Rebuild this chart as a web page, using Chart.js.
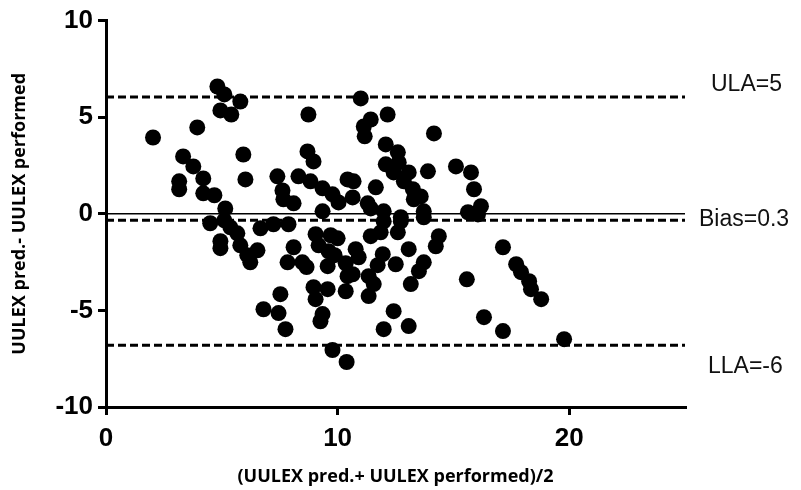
<!DOCTYPE html>
<html>
<head>
<meta charset="utf-8">
<script src="https://cdn.jsdelivr.net/npm/chart.js@4"></script>
<style>
  body { margin: 0; background: #fff; }
  canvas { display: block; }
</style>
</head>
<body>
<canvas id="blandAltman" width="801" height="490"></canvas>
<script>
const meanVals = [
  2.03, 3.16, 3.16, 3.33, 3.77, 3.94, 4.20, 4.20, 4.68, 4.81, 5.11, 4.94, 5.41, 5.80, 5.93, 6.02,
  5.15, 4.50, 5.11, 5.37, 5.67, 4.94, 4.94, 5.80, 6.10, 6.23, 6.54,
  6.67, 7.23, 7.88, 7.40, 7.62, 7.66, 8.10, 8.74, 8.70, 8.96, 8.31, 8.83, 9.35, 9.78, 10.04, 10.43, 9.35,
  8.10, 7.84, 8.48, 8.66, 8.96, 9.05, 9.57, 9.35, 9.26, 7.53, 6.80, 7.45, 7.75, 9.78, 10.39,
  9.05, 9.18, 9.70, 10.00, 9.61, 9.87, 9.57, 10.35, 10.43, 10.35,
  11.00, 11.43, 11.13, 11.17, 12.16, 14.16, 12.08, 12.60, 12.08, 12.42, 12.64, 13.07, 13.90, 12.86, 13.25, 13.59,
  15.11, 15.76, 10.69, 11.65, 10.65, 11.30, 11.43, 13.29, 13.72, 15.89, 11.99, 12.73, 15.63, 16.06, 16.19,
  11.43, 11.86, 12.60, 11.99, 12.73, 13.72, 14.37, 14.24, 13.07, 11.95, 12.51, 11.73, 10.78, 10.91,
  10.65, 11.34, 11.56, 11.34, 13.72, 13.51, 13.16, 15.58, 12.42, 11.99, 13.07,
  17.14, 17.71, 17.92, 18.27, 18.35, 18.79, 16.32, 17.14, 19.78
];
const diffVals = [
  3.95, 1.68, 1.27, 2.97, 2.45, 4.47, 1.83, 1.06, 0.96, 6.59, 6.18, 5.35, 5.14, 5.81, 3.07, 1.78,
  0.28, -0.49, -0.34, -0.70, -1.01, -1.42, -1.78, -1.63, -2.14, -2.51, -1.89,
  -0.75, -0.54, -0.54, 1.94, 1.21, 0.75, 0.54, 5.14, 3.23, 2.71, 1.94, 1.68, 1.32, 1.01, 0.59, 1.78, 0.13,
  -1.73, -2.51, -2.51, -2.76, -3.80, -4.42, -3.90, -5.19, -5.56, -4.16, -4.94, -5.14, -5.97, -7.05, -7.67,
  -1.06, -1.63, -1.11, -1.27, -1.94, -2.14, -2.71, -2.56, -3.23, -4.01,
  5.97, 4.88, 4.52, 4.01, 5.14, 4.16, 3.59, 3.18, 2.56, 2.14, 2.66, 2.14, 2.20, 1.68, 1.27, 0.90,
  2.45, 2.14, 1.68, 1.37, 0.85, 0.54, 0.28, 0.75, 0.13, 1.27, 0.13, -0.18, 0.08, -0.03, 0.39,
  -1.16, -0.96, -0.96, -0.39, -0.39, -0.18, -1.16, -1.68, -1.83, -2.09, -2.61, -2.66, -1.83, -2.25,
  -3.13, -3.23, -3.64, -4.26, -2.51, -2.97, -3.64, -3.39, -5.04, -5.97, -5.81,
  -1.73, -2.61, -3.02, -3.49, -3.90, -4.42, -5.35, -6.07, -6.49
];

// Linhas de referência (limites e viés) como desenhadas no gráfico
const limiteSuperior = 6.04;
const vies = -0.34;
const zeroLinha = 0;
const limiteInferior = -6.8;
const etiquetasLinhas = ['ULA=5', 'Bias=0.3', 'LLA=-6'];

const xTicks = [0, 10, 20];
const yTicks = [-10, -5, 0, 5, 10];
const xRange = [0, 25];
const yRange = [-10, 10];

function linhaHorizontal(valor) {
    return [{ x: xRange[0], y: valor }, { x: xRange[1], y: valor }];
}

const pontos = meanVals.map((x, i) => ({ x: x, y: diffVals[i] }));

// Etiquetas à direita do gráfico
const etiquetasPlugin = {
    id: 'etiquetas',
    afterDraw(chart) {
        const ctx = chart.ctx;
        const y = chart.scales.y;
        const area = chart.chartArea;
        ctx.save();
        ctx.fillStyle = '#111';
        ctx.font = '23px "Liberation Sans", Arial, sans-serif';
        ctx.textAlign = 'left';
        ctx.textBaseline = 'middle';
        ctx.fillText(etiquetasLinhas[0], area.right + 26, y.getPixelForValue(limiteSuperior) - 12);
        ctx.fillText(etiquetasLinhas[1], area.right + 14, y.getPixelForValue(vies) - 1);
        ctx.fillText(etiquetasLinhas[2], area.right + 23, y.getPixelForValue(limiteInferior) + 21);
        ctx.restore();
    }
};

const eixoComum = {
    border: { display: true, color: '#000', width: 3 },
    grid: { display: true, drawOnChartArea: false, drawTicks: true, tickLength: 8, color: '#000', lineWidth: 3 },
    ticks: {
        color: '#000',
        font: { family: '"Liberation Sans", Arial, sans-serif', size: 26, weight: 'bold' }
    }
};

const fonteTitulo = { family: '"Open Sans", sans-serif', size: 18, weight: 'bold' };

new Chart(document.getElementById('blandAltman'), {
    type: 'scatter',
    data: {
        datasets: [
            {
                data: pontos,
                backgroundColor: '#000',
                borderWidth: 0,
                pointRadius: 8,
                pointHoverRadius: 8
            },
            {
                type: 'line',
                data: linhaHorizontal(limiteSuperior),
                borderColor: '#000',
                borderWidth: 3,
                borderDash: [8, 4],
                pointRadius: 0
            },
            {
                type: 'line',
                data: linhaHorizontal(vies),
                borderColor: '#000',
                borderWidth: 3,
                borderDash: [8, 4],
                pointRadius: 0
            },
            {
                type: 'line',
                data: linhaHorizontal(zeroLinha),
                borderColor: '#000',
                borderWidth: 1.5,
                pointRadius: 0
            },
            {
                type: 'line',
                data: linhaHorizontal(limiteInferior),
                borderColor: '#000',
                borderWidth: 3,
                borderDash: [8, 4],
                pointRadius: 0
            }
        ]
    },
    options: {
        responsive: false,
        animation: false,
        layout: { padding: { top: 20, right: 116, left: 0, bottom: 0 } },
        plugins: { legend: { display: false }, tooltip: { enabled: false } },
        scales: {
            x: {
                ...eixoComum,
                min: xRange[0],
                max: xRange[1],
                ticks: { ...eixoComum.ticks, padding: 8 },
                afterBuildTicks: scale => { scale.ticks = xTicks.map(v => ({ value: v })); },
                afterFit: scale => { scale.height = 83; },
                title: {
                    display: true,
                    text: '(UULEX pred.+ UULEX performed)/2',
                    color: '#000',
                    font: fonteTitulo,
                    padding: { top: 4, bottom: 2 }
                }
            },
            y: {
                ...eixoComum,
                min: yRange[0],
                max: yRange[1],
                ticks: { ...eixoComum.ticks, padding: 5 },
                afterBuildTicks: scale => { scale.ticks = yTicks.map(v => ({ value: v })); },
                afterFit: scale => { scale.width = 106; },
                title: {
                    display: true,
                    text: 'UULEX pred.- UULEX performed',
                    color: '#000',
                    font: fonteTitulo,
                    padding: { top: 9, bottom: 4 }
                }
            }
        }
    },
    plugins: [etiquetasPlugin]
});
</script>
</body>
</html>
